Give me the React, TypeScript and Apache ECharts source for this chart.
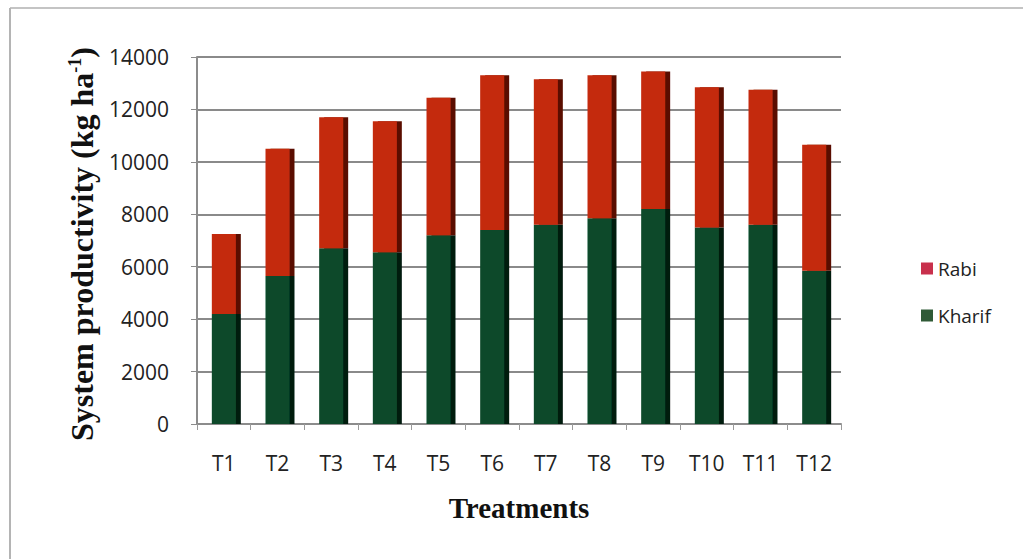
import React, { useEffect, useRef } from "react";
import * as echarts from "echarts";

const categories = ["T1", "T2", "T3", "T4", "T5", "T6", "T7", "T8", "T9", "T10", "T11", "T12"];
const kharif = [4200, 5650, 6700, 6550, 7200, 7400, 7600, 7850, 8200, 7500, 7600, 5850];
const rabi = [3050, 4850, 5000, 5000, 5250, 5900, 5550, 5450, 5250, 5350, 5150, 4800];
const yTicks = [0, 2000, 4000, 6000, 8000, 10000, 12000, 14000];

export default function App() {
  const ref = useRef<HTMLDivElement>(null);
  useEffect(() => {
    if (!ref.current) return;
    const chart = echarts.init(ref.current, null, { renderer: "svg" });
    const sans = "'Open Sans', sans-serif";
    const serif = "'Liberation Serif', 'Times New Roman', serif";
    chart.setOption({
      animation: false,
      backgroundColor: "#ffffff",
      grid: { left: 197, right: 182, top: 57, bottom: 135 },
      legend: {
        orient: "vertical",
        left: 916,
        top: 254,
        itemGap: 28,
        itemWidth: 12,
        itemHeight: 12,
        icon: "rect",
        textStyle: { fontFamily: sans, fontSize: 19, color: "#222" },
        data: [
          { name: "Rabi", itemStyle: { color: "#c8304c" } },
          { name: "Kharif", itemStyle: { color: "#2f5a36" } },
        ],
      },
      xAxis: {
        type: "category",
        data: categories,
        axisLine: { show: true, lineStyle: { color: "#8c8c8c", width: 2 } },
        axisTick: { show: true, length: 6, lineStyle: { color: "#9a9a9a" } },
        axisLabel: { fontFamily: sans, fontSize: 21, color: "#222", margin: 28 },
      },
      yAxis: {
        type: "value",
        min: 0,
        max: yTicks[yTicks.length - 1],
        interval: 2000,
        axisLine: { show: true, lineStyle: { color: "#8c8c8c", width: 2 } },
        axisTick: { show: true, length: 6, lineStyle: { color: "#8c8c8c" } },
        axisLabel: {
          fontFamily: sans,
          fontSize: 21,
          color: "#222",
          margin: 28,
          formatter: (v: number) => String(v),
        },
        splitLine: { show: true, lineStyle: { color: "#8a8a8a", width: 2 } },
      },
      series: [
        {
          name: "Kharif",
          type: "bar",
          stack: "total",
          data: kharif,
          barWidth: 24,
          itemStyle: {
            color: "#0d4a2c",
            shadowColor: "#021a0d",
            shadowOffsetX: 5,
            shadowOffsetY: 0,
            shadowBlur: 0,
          },
        },
        {
          name: "Rabi",
          type: "bar",
          stack: "total",
          data: rabi,
          barWidth: 24,
          itemStyle: {
            color: "#c42c10",
            shadowColor: "#5a0c06",
            shadowOffsetX: 5,
            shadowOffsetY: 0,
            shadowBlur: 0,
          },
        },
      ],
      graphic: [
        {
          type: "line",
          shape: { x1: 10, y1: 8, x2: 1023, y2: 8 },
          style: { stroke: "#c4c4c4", lineWidth: 2 },
        },
        {
          type: "line",
          shape: { x1: 10, y1: 8, x2: 10, y2: 559 },
          style: { stroke: "#b4b4b4", lineWidth: 2 },
        },
        {
          type: "text",
          x: 82,
          y: 244,
          rotation: Math.PI / 2,
          style: {
            text: "{a|System productivity (kg ha}{s|-1}{a|)}",
            align: "center",
            verticalAlign: "middle",
            rich: {
              a: { fontFamily: serif, fontWeight: "bold", fontSize: 32, fill: "#111" },
              s: { fontFamily: serif, fontWeight: "bold", fontSize: 18, fill: "#111", padding: [0, 0, 14, 0] },
            },
          },
        },
        {
          type: "text",
          x: 519,
          y: 508,
          style: {
            text: "Treatments",
            align: "center",
            verticalAlign: "middle",
            fontFamily: serif,
            fontWeight: "bold",
            fontSize: 29,
            fill: "#111",
          },
        },
      ],
    });
    return () => chart.dispose();
  }, []);
  return (
    <div
      ref={ref}
      style={{ position: "absolute", left: 0, top: 0, width: 1023, height: 559 }}
    />
  );
}
